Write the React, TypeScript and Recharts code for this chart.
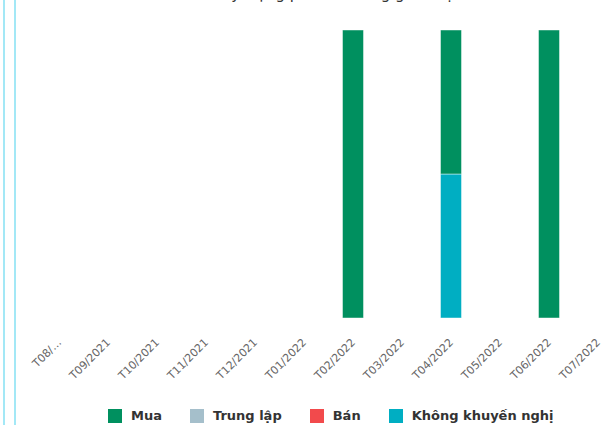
import { BarChart, Bar, XAxis, YAxis } from "recharts";

// tháng và nhãn trục (nhãn đầu bị cắt như bản gốc)
const thang = ["T08/2021", "T09/2021", "T10/2021", "T11/2021", "T12/2021", "T01/2022", "T02/2022", "T03/2022", "T04/2022", "T05/2022", "T06/2022", "T07/2022"];
const nhanTruc = ["T08/…", "T09/2021", "T10/2021", "T11/2021", "T12/2021", "T01/2022", "T02/2022", "T03/2022", "T04/2022", "T05/2022", "T06/2022", "T07/2022"];

// số khuyến nghị mỗi tháng
const mua = [0, 0, 0, 0, 0, 0, 1, 0, 1, 0, 1, 0];
const trungLap = [0, 0, 0, 0, 0, 0, 0, 0, 0, 0, 0, 0];
const ban = [0, 0, 0, 0, 0, 0, 0, 0, 0, 0, 0, 0];
const khongKN = [0, 0, 0, 0, 0, 0, 0, 0, 1, 0, 0, 0];

const chuoi = [
  { key: "mua", ten: "Mua", mau: "#00905f" },
  { key: "trungLap", ten: "Trung lập", mau: "#a5bfcb" },
  { key: "ban", ten: "Bán", mau: "#f24a4c" },
  { key: "khongKN", ten: "Không khuyến nghị", mau: "#00aec2" },
];

const duLieu = thang.map((t, i) => ({
  thang: t,
  mua: mua[i],
  trungLap: trungLap[i],
  ban: ban[i],
  khongKN: khongKN[i],
}));

const FONT = "'DejaVu Sans', Verdana, sans-serif";

function NhanTruc(props: any) {
  const { x, y, payload } = props;
  const i = thang.indexOf(payload.value);
  const cx = x + 3;
  const cy = y + 17;
  return (
    <text
      x={cx}
      y={cy}
      transform={`rotate(-45, ${cx}, ${cy})`}
      textAnchor="end"
      fontSize={11}
      fontFamily={FONT}
      fill="#666666"
    >
      {nhanTruc[i]}
    </text>
  );
}

export default function App() {
  // chồng từ dưới lên: Không khuyến nghị, Bán, Trung lập, Mua
  const thuTuChong = [...chuoi].reverse();
  return (
    <div
      style={{
        position: "absolute",
        left: 0,
        top: 0,
        width: 603,
        height: 425,
        overflow: "hidden",
        background: "#ffffff",
        fontFamily: FONT,
      }}
    >
      <div style={{ position: "absolute", left: 3, top: 0, width: 2, height: 425, background: "#a3e8f6" }} />
      <div style={{ position: "absolute", left: 14, top: 0, width: 2, height: 425, background: "#a3e8f6" }} />
      <div
        style={{
          position: "absolute",
          left: 222,
          top: -14,
          fontSize: 15,
          lineHeight: "16px",
          color: "#333333",
          whiteSpace: "nowrap",
        }}
      >
        Tỷ trọng phân bổ từng giai đoạn
      </div>
      <div style={{ position: "absolute", left: 0, top: 0 }}>
        <BarChart
          width={640}
          height={425}
          data={duLieu}
          stackOffset="expand"
          margin={{ top: 30, right: 17.5, left: 34.5, bottom: 0 }}
        >
          <XAxis
            dataKey="thang"
            axisLine={false}
            tickLine={false}
            interval={0}
            height={107}
            tick={<NhanTruc />}
          />
          <YAxis hide domain={[0, 1]} />
          {thuTuChong.map((c) => (
            <Bar
              key={c.key}
              dataKey={c.key}
              name={c.ten}
              stackId="a"
              fill={c.mau}
              stroke="#ffffff"
              strokeOpacity={0.45}
              strokeWidth={1}
              barSize={21}
              isAnimationActive={false}
            />
          ))}
        </BarChart>
      </div>
      <div
        style={{
          position: "absolute",
          left: 108,
          top: 408,
          display: "flex",
          alignItems: "center",
          gap: 28,
          fontSize: 13,
          fontWeight: "bold",
          color: "#333333",
          whiteSpace: "nowrap",
        }}
      >
        {chuoi.map((c) => (
          <div key={c.key} style={{ display: "flex", alignItems: "center" }}>
            <span style={{ display: "inline-block", width: 14, height: 14, background: c.mau, marginRight: 9 }} />
            <span>{c.ten}</span>
          </div>
        ))}
      </div>
    </div>
  );
}
